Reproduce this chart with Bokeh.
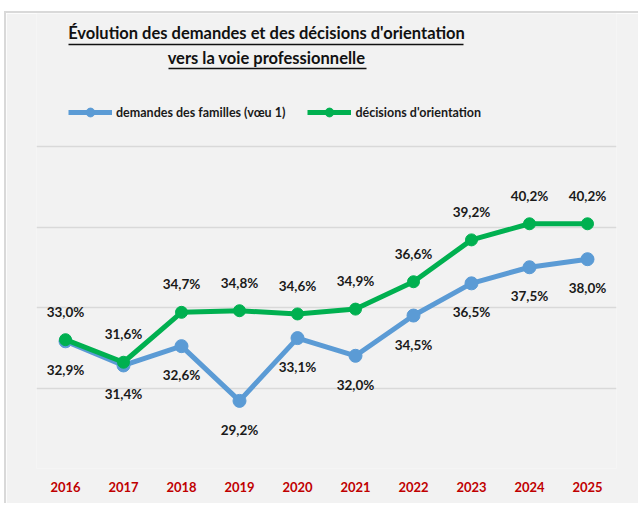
from bokeh.plotting import figure
from bokeh.models import Range1d, FixedTicker, Label, Legend, LegendItem, ColumnDataSource
from bokeh.core.properties import value
from bokeh.embed import file_html
from bokeh.resources import INLINE

# ---- data ----
years = [2016, 2017, 2018, 2019, 2020, 2021, 2022, 2023, 2024, 2025]
year_labels = ["2016", "2017", "2018", "2019", "2020", "2021", "2022", "2023", "2024", "2025"]
demandes = [32.9, 31.4, 32.6, 29.2, 33.1, 32.0, 34.5, 36.5, 37.5, 38.0]
decisions = [33.0, 31.6, 34.7, 34.8, 34.6, 34.9, 36.6, 39.2, 40.2, 40.2]
grid_ticks = [25, 30, 35, 40, 45]
series_names = ["demandes des familles (vœu 1)", "décisions d'orientation"]
title_lines = ["Évolution des demandes et des décisions d'orientation",
               "vers la voie professionnelle"]

BLUE = "#5B9BD5"
GREEN = "#00B050"
RED = "#C00000"
BG = "#F2F2F2"
FONT = "Lato"

# ---- geometry (page pixels) ----
OX, OY = 6, 13                                # canvas origin on the page
W, H = 640 - OX, 505 - OY
FRAME_LEFT_PX, FRAME_RIGHT_PX = 36, 616       # page x
FRAME_TOP_PX, FRAME_BOTTOM_PX = OY, 468       # page y
PX_PER_PCT = 16.1
frame_h = FRAME_BOTTOM_PX - FRAME_TOP_PX
y0 = grid_ticks[0]
x0, x1 = years[0] - 0.5, years[-1] + 0.5
px_per_year = (FRAME_RIGHT_PX - FRAME_LEFT_PX) / (x1 - x0)


def px_x(px):
    return x0 + (px - FRAME_LEFT_PX) / px_per_year


def px_y(py):
    return y0 + (FRAME_BOTTOM_PX - py) / PX_PER_PCT


def fmt(v):
    return f"{v:.1f}".replace(".", ",") + "%"


p = figure(width=W, height=H, output_backend="svg", toolbar_location=None,
           x_range=Range1d(x0, x1), y_range=Range1d(y0, y0 + frame_h / PX_PER_PCT),
           y_axis_location=None,
           min_border_left=FRAME_LEFT_PX - OX, min_border_right=640 - FRAME_RIGHT_PX,
           min_border_top=0, min_border_bottom=505 - FRAME_BOTTOM_PX,
           background_fill_color=BG, border_fill_color=BG, outline_line_color=None)
p.styles = {"margin-left": f"{OX - 2}px", "margin-top": f"{OY - 2}px",
            "border-left": "2px solid #D9D9D9", "border-top": "2px solid #D9D9D9"}

# x axis
ax = p.xaxis[0]
ax.ticker = FixedTicker(ticks=years)
ax.major_label_overrides = dict(zip(years, year_labels))
ax.axis_line_color = None
ax.major_tick_line_color = None
ax.minor_tick_line_color = None
ax.major_tick_out = 0
ax.major_label_standoff = 13
ax.major_label_text_font = FONT
ax.major_label_text_font_style = "bold"
ax.major_label_text_font_size = "13px"
ax.major_label_text_color = RED

# grids
p.xgrid.visible = False
p.ygrid.ticker = FixedTicker(ticks=grid_ticks)
p.ygrid.grid_line_color = "#D9D9D9"
p.ygrid.grid_line_width = 1.5

src = ColumnDataSource(dict(year=years, dem=demandes, dec=decisions,
                            dem_lbl=[fmt(v) for v in demandes],
                            dec_lbl=[fmt(v) for v in decisions]))

r1l = p.line("year", "dem", source=src, line_color=BLUE, line_width=5)
r1m = p.scatter("year", "dem", source=src, size=13, color=BLUE)
r2l = p.line("year", "dec", source=src, line_color=GREEN, line_width=5)
r2m = p.scatter("year", "dec", source=src, size=12, color=GREEN)

p.text("year", "dec", text="dec_lbl", source=src, text_align="center", text_baseline="middle",
       y_offset=-28, text_font=value(FONT), text_font_style="bold", text_font_size="13.5px",
       text_color="#1A1A1A")
p.text("year", "dem", text="dem_lbl", source=src, text_align="center", text_baseline="middle",
       y_offset=29, text_font=value(FONT), text_font_style="bold", text_font_size="13.5px",
       text_color="#1A1A1A")

# title
title_center = px_x(266)
for line, py in zip(title_lines, [32, 57]):
    p.add_layout(Label(x=title_center, y=px_y(py), text=line, text_align="center",
                       text_baseline="middle", text_font=FONT, text_font_style="bold",
                       text_font_size="16.5px", text_color="#111111"))
p.segment(x0=[px_x(68), px_x(168)], y0=[px_y(44), px_y(68)],
          x1=[px_x(463), px_x(366)], y1=[px_y(44), px_y(68)],
          line_color="#111111", line_width=1.3)

legend = Legend(items=[LegendItem(label=series_names[0], renderers=[r1l, r1m]),
                       LegendItem(label=series_names[1], renderers=[r2l, r2m])],
                orientation="horizontal", location=(68 - FRAME_LEFT_PX, FRAME_BOTTOM_PX - 123),
                background_fill_alpha=0, border_line_color=None, padding=0, margin=0,
                spacing=22, glyph_width=44, glyph_height=22, label_height=22,
                label_standoff=4, label_text_font=FONT, label_text_font_style="bold",
                label_text_font_size="12.5px", label_text_color="#1A1A1A")
p.add_layout(legend, "center")

open("out.html", "w").write(file_html(p, INLINE))
